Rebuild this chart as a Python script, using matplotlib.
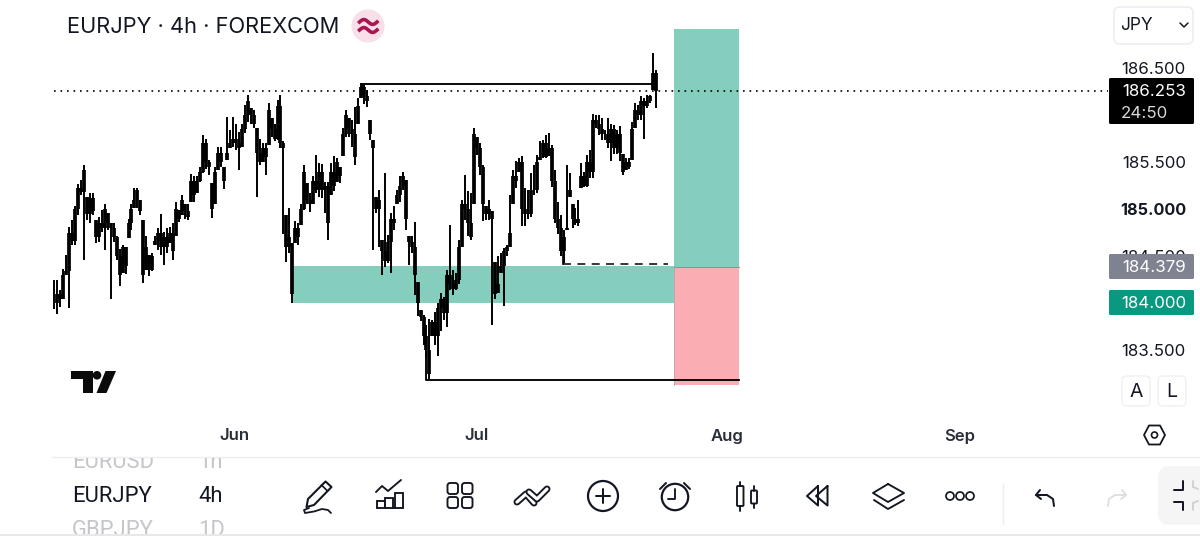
import matplotlib
matplotlib.use("Agg")
import matplotlib.pyplot as plt
from matplotlib.patches import Rectangle, Circle, FancyBboxPatch, Polygon
from matplotlib.transforms import blended_transform_factory
import numpy as np

plt.rcParams['font.family'] = ['Inter', 'DejaVu Sans']

# 4h bars, oldest first
highs = [184.25, 184.25, 184.14, 184.36, 184.51, 184.81, 184.89, 185.03, 185.27, 185.31,
         185.47, 185.13, 185.17, 185.17, 184.89, 184.92, 184.99, 185.06, 184.96, 184.85,
         184.85, 184.71, 184.58, 184.62, 184.60, 184.90, 185.06, 185.22, 185.22, 185.10,
         184.89, 184.71, 184.51, 184.53, 184.71, 184.80, 184.95, 184.76, 184.80, 184.81,
         184.85, 185.08, 184.99, 185.15, 185.06, 185.06, 185.37, 185.35, 185.35, 185.45,
         185.79, 185.75, 185.52, 185.28, 185.45, 185.66, 185.66, 185.45, 185.98, 185.84,
         185.98, 185.91, 185.82, 185.91, 186.11, 186.21, 186.07, 186.05, 185.86, 185.75,
         185.70, 185.70, 186.13, 185.97, 185.90, 186.16, 186.21, 185.72, 184.94, 185.01,
         184.64, 184.87, 184.85, 185.05, 185.47, 185.28, 185.17, 185.35, 185.58, 185.49,
         185.48, 185.29, 185.29, 185.49, 185.56, 185.54, 185.45, 185.86, 186.05, 185.97,
         185.95, 186.09, 186.18, 186.34, 186.32, 186.27, 185.95, 185.74, 185.13, 185.20,
         184.67, 185.38, 184.73, 184.96, 185.03, 185.20, 185.35, 185.40, 185.31, 184.71,
         184.71, 184.86, 184.23, 183.93, 183.88, 183.77, 183.83, 183.82, 183.91, 184.00,
         184.11, 184.07, 184.35, 184.83, 184.35, 184.32, 184.67, 185.10, 185.36, 185.19,
         185.17, 185.86, 185.77, 185.70, 185.47, 185.03, 185.10, 184.98, 184.44, 184.50,
         184.53, 184.59, 184.62, 185.15, 185.42, 185.51, 185.54, 185.56, 185.22, 185.20,
         185.38, 185.47, 185.58, 185.72, 185.74, 185.79, 185.81, 185.68, 185.42, 185.08,
         184.94, 184.78, 185.47, 185.38, 185.05, 185.01, 185.10, 185.49, 185.40, 185.58,
         185.63, 186.01, 186.00, 186.00, 185.97, 185.84, 185.97, 185.91, 185.89, 185.84,
         185.88, 185.59, 185.54, 185.54, 185.93, 186.13, 186.11, 186.20, 186.18, 186.21,
         186.21, 186.66, 186.48]
lows = [183.94, 183.89, 183.96, 184.05, 184.30, 183.95, 184.62, 184.62, 184.94, 185.15,
        184.46, 184.89, 184.85, 184.94, 184.64, 184.65, 184.76, 184.57, 184.78, 184.05,
        184.65, 184.46, 184.18, 184.32, 184.31, 184.69, 184.78, 185.01, 185.01, 184.94,
        184.22, 184.35, 184.29, 184.34, 184.62, 184.57, 184.51, 184.41, 184.53, 184.64,
        184.46, 184.71, 184.86, 184.94, 184.90, 184.89, 185.08, 185.08, 185.17, 185.29,
        185.38, 185.43, 185.36, 184.91, 185.05, 185.42, 185.45, 185.21, 185.52, 185.65,
        185.66, 185.63, 185.42, 185.66, 185.81, 185.93, 185.91, 185.86, 185.13, 185.47,
        185.50, 185.36, 185.68, 185.77, 185.72, 185.74, 185.65, 184.74, 184.44, 184.53,
        184.00, 184.64, 184.62, 184.83, 184.99, 185.06, 184.97, 185.06, 185.17, 185.13,
        185.12, 184.96, 184.67, 185.15, 185.19, 185.29, 185.28, 185.56, 185.77, 185.77,
        185.66, 185.47, 185.91, 186.18, 186.12, 186.09, 185.74, 184.57, 184.96, 184.60,
        184.30, 184.39, 184.43, 184.32, 184.78, 185.06, 185.08, 185.20, 184.78, 184.41,
        184.53, 184.09, 183.86, 183.81, 183.56, 183.42, 183.20, 183.65, 183.56, 183.44,
        183.70, 183.82, 183.75, 184.14, 184.09, 184.14, 184.20, 184.60, 184.89, 184.71,
        184.67, 185.06, 185.58, 185.36, 184.87, 184.89, 184.89, 183.77, 184.05, 184.11,
        184.32, 183.97, 184.50, 184.60, 185.06, 185.22, 185.40, 184.82, 184.82, 184.90,
        184.92, 185.15, 185.17, 185.52, 185.54, 185.54, 185.56, 185.24, 184.85, 184.74,
        184.50, 184.43, 184.78, 185.13, 184.80, 184.83, 184.82, 185.22, 185.24, 185.24,
        185.33, 185.33, 185.86, 185.79, 185.74, 185.74, 185.65, 185.51, 185.59, 185.59,
        185.51, 185.36, 185.42, 185.43, 185.52, 185.86, 185.95, 185.95, 185.75, 186.07,
        186.13, 186.27, 186.07]
closes = [184.00, 184.10, 184.05, 184.30, 184.34, 184.75, 184.66, 185.00, 185.22, 185.18,
          185.42, 184.95, 185.12, 184.98, 184.70, 184.85, 184.80, 185.00, 184.85, 184.80,
          184.70, 184.50, 184.30, 184.60, 184.40, 184.85, 185.00, 185.10, 185.20, 184.98,
          184.30, 184.60, 184.35, 184.50, 184.66, 184.75, 184.60, 184.70, 184.60, 184.75,
          184.55, 185.00, 184.90, 185.10, 184.98, 184.92, 185.30, 185.15, 185.30, 185.40,
          185.70, 185.50, 185.45, 185.00, 185.40, 185.60, 185.50, 185.30, 185.60, 185.70,
          185.75, 185.70, 185.65, 185.85, 186.00, 186.15, 186.00, 185.90, 185.60, 185.50,
          185.65, 185.55, 186.05, 185.85, 185.75, 186.10, 185.70, 185.65, 184.60, 184.70,
          184.10, 184.80, 184.70, 185.00, 185.40, 185.10, 185.05, 185.30, 185.20, 185.40,
          185.20, 185.25, 184.85, 185.40, 185.25, 185.50, 185.35, 185.80, 186.00, 185.85,
          185.80, 185.55, 186.10, 186.30, 186.20, 186.15, 185.80, 185.65, 185.00, 185.10,
          184.55, 184.45, 184.65, 184.90, 184.85, 185.15, 185.25, 185.35, 184.90, 184.65,
          184.60, 184.30, 184.00, 183.85, 183.65, 183.50, 183.25, 183.80, 183.65, 183.95,
          184.05, 183.90, 184.30, 184.20, 184.15, 184.25, 184.60, 185.05, 185.00, 184.85,
          184.70, 185.80, 185.65, 185.45, 185.05, 184.95, 185.00, 184.90, 184.10, 184.20,
          184.40, 184.55, 184.60, 184.75, 185.35, 185.30, 185.50, 185.00, 184.95, 184.95,
          185.20, 185.20, 185.50, 185.55, 185.70, 185.55, 185.65, 185.30, 184.90, 184.80,
          184.55, 184.70, 184.80, 185.20, 184.90, 184.85, 184.90, 185.35, 185.25, 185.50,
          185.40, 185.95, 185.90, 185.85, 185.80, 185.80, 185.70, 185.85, 185.65, 185.80,
          185.60, 185.40, 185.50, 185.45, 185.85, 186.05, 186.00, 186.15, 186.10, 186.15,
          186.20, 186.45, 186.253]

price_ticks = [186.5, 185.5, 185.0, 184.5, 183.5]
price_tick_labels = ['186.500', '185.500', '185.000', '184.500', '183.500']
last_price = 186.253
last_countdown = '24:50'
avg_price = 184.379
sl_price = 184.0

months = ['Jun', 'Jul', 'Aug', 'Sep']
month_bars = [60.7, 141.9, 225.8, 304.0]

swing_high = 186.33
swing_low = 183.184
minor_low = 184.417
zone_top = 184.40
zone_bottom = 184.0
target_top = 186.914
stop_bottom = 183.131

GREEN = '#85cdbd'
PINK = '#fbadb4'
INK = '#131722'

W, H = 1200, 536
PX_PER_BAR = 2.98
PX_PER_PRICE = 94.1


def bar_at(px):
    return (px - 54) / PX_PER_BAR


def stroke(pts, lw=2.0, color=INK, cap='round', join='round', z=5):
    # lw in pixels, points in figure pixel coords
    xs, ys = zip(*pts)
    ui.plot(xs, ys, color=color, lw=lw * 0.72, solid_capstyle=cap, solid_joinstyle=join, zorder=z)


def box(x, y, w, h, r, fc='none', ec=INK, lw=2.0, z=5):
    ui.add_patch(FancyBboxPatch((x + r, y + r), w - 2 * r, h - 2 * r,
                                boxstyle=f'round,pad={r},rounding_size={r}',
                                fc=fc, ec=ec, lw=lw * 0.72, zorder=z))


fig = plt.figure(figsize=(W / 100, H / 100), dpi=100, facecolor='white')

# price chart fills the whole figure, with scales set so the panel lands in place
ax = fig.add_axes([0, 0, 1, 1])
ax.set_xlim(bar_at(0), bar_at(W))
ax.set_ylim(186.5 - (H - 68) / PX_PER_PRICE, 186.5 + 68 / PX_PER_PRICE)
ax.axis('off')

# order block and long position boxes
ax.fill_between([bar_at(293), bar_at(674)], zone_bottom, zone_top, color=GREEN, lw=0, zorder=1)
ax.fill_between([bar_at(674), bar_at(739)], avg_price, target_top, color=GREEN, lw=0, zorder=1)
ax.fill_between([bar_at(674), bar_at(739)], stop_bottom, avg_price, color=PINK, lw=0, zorder=1)
ax.plot([bar_at(674), bar_at(739)], [avg_price + 0.005] * 2, color='#7f9a94', lw=0.7, zorder=1.5)
ax.plot([bar_at(674), bar_at(674)], [stop_bottom, avg_price], color='#c9a3a8', lw=0.7, zorder=1.5)

# last price line
ax.plot([bar_at(54), bar_at(1108)], [last_price, last_price], color='black', lw=1.2,
        ls=(0, (1, 2.9)), zorder=2)

# candles
bars = np.arange(len(highs))
opens = [closes[0]] + closes[:-1]
ax.vlines(bars, lows, highs, color='black', lw=1.4, zorder=3)
body_low = np.clip(np.minimum(opens, closes), lows, highs)
body_high = np.clip(np.maximum(opens, closes), lows, highs)
ax.vlines(bars, body_low, body_high, color='black', lw=2.7, zorder=3)

# drawn levels
hi_start = bar_at(362)
hi_end = bar_at(652)
ax.plot([hi_start, hi_start, hi_end], [186.27, swing_high, swing_high], color='black', lw=1.35, zorder=4)
lo_start = bar_at(426.5)
ax.plot([lo_start, lo_start, bar_at(739)], [183.65, swing_low, swing_low], color='black', lw=1.35, zorder=4)
mid_start = bar_at(563.5)
ax.plot([mid_start, mid_start], [184.6, minor_low], color='black', lw=1.2, zorder=4)
ax.plot([mid_start, bar_at(668)], [minor_low, minor_low], color='black', lw=1.1,
        ls=(0, (5.2, 4.2)), zorder=4)

# overlay in pixel coords for the app chrome around the chart
ui = fig.add_axes([0, 0, 1, 1])
ui.set_xlim(0, W)
ui.set_ylim(H, 0)
ui.axis('off')
ui.patch.set_alpha(0)

ui.text(67, 27, 'EURJPY · 4h · FOREXCOM', fontsize=15.75, color=INK, va='center', ha='left')
ui.add_patch(Circle((368, 26), 16.5, fc='#f9dfe9', ec='none'))
for off in (-4, 4):
    xs = np.linspace(359.5, 377, 30)
    ui.plot(xs, 26 + off - 2.4 * np.sin((xs - 359.5) / 17.5 * 2 * np.pi), color='#a8174f', lw=2.6)

# currency picker
box(1114, 7, 79, 37, 6, ec='#e9ebee', lw=1.4)
ui.text(1120, 26, 'JPY', fontsize=12.5, color=INK, va='center', ha='left')
stroke([(1180, 23), (1184, 27), (1188, 23)], lw=1.5)

# price scale
price_tf = blended_transform_factory(ui.transData, ax.transData)
for p, lab in zip(price_ticks, price_tick_labels):
    strong = lab == '185.000'
    ax.annotate(lab, (1186, p), xycoords=price_tf, xytext=(0, -0.8), textcoords='offset points',
                fontsize=11.7 if strong else 12.2, color=INK, va='center', ha='right',
                fontweight='bold' if strong else 'normal', zorder=6)

box(1109, 78, 85, 46, 1.5, fc='black', ec='none')
ui.text(1186, 92, f'{last_price:.3f}', fontsize=12.2, color='white', va='center', ha='right', zorder=7)
ui.text(1121, 113, last_countdown, fontsize=12.2, color='#d8d8d8', va='center', ha='left', zorder=7)
box(1109, 254, 85, 25, 1.5, fc='#7f8290', ec='none')
ui.text(1186, 268, f'{avg_price:.3f}', fontsize=12.2, color='white', va='center', ha='right', zorder=7)
box(1109, 290, 85, 25, 1.5, fc='#089981', ec='none')
ui.text(1186, 304, f'{sl_price:.3f}', fontsize=12.2, color='white', va='center', ha='right', zorder=7)

# scale mode buttons
box(1122, 376, 28, 30, 5, ec='#eceef0', lw=1.2)
box(1158, 376, 28, 30, 5, ec='#eceef0', lw=1.2)
ui.text(1136, 392, 'A', fontsize=14, color=INK, va='center', ha='center')
ui.text(1172, 392, 'L', fontsize=14, color=INK, va='center', ha='center')

# settings hexagon
ui.add_patch(Polygon([(1144, 435), (1149, 425.5), (1160, 425.5), (1165, 435), (1160, 444.5), (1149, 444.5)],
                     closed=True, fc='none', ec=INK, lw=1.3, joinstyle='round'))
ui.add_patch(Circle((1154.5, 435), 3, fc='none', ec=INK, lw=1.2))

# month labels
ax.set_xticks([])
for m, b in zip(months, month_bars):
    ax.text(b, 186.5 - (436 - 68) / PX_PER_PRICE, m, fontsize=12, fontweight='semibold', color='#2a2e39',
            va='center', ha='center', zorder=6)

# TradingView mark
ui.add_patch(Polygon([(71, 371), (92.5, 371), (92.5, 393), (83, 393), (83, 378.5), (71, 378.5)],
                     closed=True, fc='#0b0b0b', ec='none'))
ui.add_patch(Circle((97, 375.3), 4.3, fc='#0b0b0b', ec='none'))
ui.add_patch(Polygon([(105.5, 371), (116, 371), (106.5, 393), (96.5, 393)], closed=True, fc='#0b0b0b', ec='none'))

# toolbar
ui.plot([52, W], [457, 457], color='#eceef0', lw=1)
ui.plot([0, W], [534.5, 534.5], color='#e8e8e8', lw=1.4)

strip = Rectangle((0, 458), 300, 76, transform=ui.transData)
for label, tf, y, col in [('EURUSD', '1h', 462, '#c4c6ca'), ('EURJPY', '4h', 496, INK), ('GBPJPY', '1D', 530, '#c4c6ca')]:
    t1 = ui.text(72, y, label, family=['Roboto', 'DejaVu Sans'], fontsize=15.8, color=col, va='center', ha='left')
    t2 = ui.text(198, y, tf, family=['Roboto', 'DejaVu Sans'], fontsize=15.8, color=col, va='center', ha='left')
    for t in (t1, t2):
        t.set_clip_path(strip)
        t.set_clip_on(True)

# pencil
ui.add_patch(Polygon([(325.5, 481.5), (331.5, 487), (314, 505), (306.5, 507), (308, 499)],
                     closed=True, fc='none', ec=INK, lw=1.5, joinstyle='round'))
stroke([(321.5, 485), (327.5, 491)], lw=1.7)
stroke([(309, 508), (304, 510), (305, 513), (314, 511.5), (322, 509), (328, 510), (331, 513)], lw=1.8)

# indicators
stroke([(376, 492), (382, 486), (388, 491), (401, 480)], lw=1.9)
stroke([(377, 507.5), (403, 507.5)], lw=1.9)
for x0, top, w in [(377, 501, 8), (385, 498, 8), (395, 493, 7.5)]:
    stroke([(x0, 507.5), (x0, top), (x0 + w, top), (x0 + w, 507.5)], lw=1.9, join='miter')

# layouts
for bx in (447.5, 462):
    for by in (483, 497):
        box(bx, by, 10.5, 11, 2.6, lw=1.9)

# drawing tools, two outlined chevrons
left_chev = [(517, 502), (526, 494), (534, 503)]
right_chev = [(529, 492), (537, 499), (547, 489)]
stroke(left_chev, lw=7, z=5)
stroke(left_chev, lw=3.2, color='white', z=6)
stroke(right_chev, lw=7, z=7)
stroke(right_chev, lw=3.2, color='white', z=8)

# add
ui.add_patch(Circle((603, 496), 15, fc='none', ec=INK, lw=1.6))
stroke([(596, 496), (610, 496)], lw=2)
stroke([(603, 489), (603, 503)], lw=2)

# alarm
ui.add_patch(Circle((675, 497), 13.2, fc='none', ec=INK, lw=1.6))
stroke([(675, 489), (675, 499), (668, 499)], lw=1.9)
stroke([(660, 489), (666, 483)], lw=2)
stroke([(684, 483), (690, 489)], lw=2)

# chart type
box(737, 486, 6.5, 20, 1, lw=1.9)
stroke([(740.3, 482), (740.3, 486)], lw=1.9)
stroke([(740.3, 506), (740.3, 511)], lw=1.9)
box(751, 490.5, 6, 13, 1, lw=1.9)
stroke([(754, 486), (754, 490.5)], lw=1.9)
stroke([(754, 503.5), (754, 508)], lw=1.9)

# replay
stroke([(818, 486), (807, 496), (818, 505.5), (818, 486)], lw=2)
stroke([(827.5, 486), (816, 496), (827.5, 505.5), (827.5, 486)], lw=2)

# layers
stroke([(888, 484), (904, 493), (888, 502), (873, 493), (888, 484)], lw=1.9)
stroke([(874, 500), (888, 509), (904, 500)], lw=1.9)

# more
for cx in (950, 960, 970):
    ui.add_patch(Circle((cx, 496), 4, fc='none', ec=INK, lw=1.25))

ui.plot([1003, 1003], [484, 524], color='#eceef0', lw=1)

# undo / redo
stroke([(1040, 490), (1036, 495), (1041, 499)], lw=2.0)
stroke([(1036, 495), (1047, 495), (1053, 499), (1054, 506)], lw=2.0)
stroke([(1122, 490), (1126, 495), (1121, 499)], lw=1.8, color='#dddddf')
stroke([(1126, 495), (1115, 495), (1109, 499), (1108, 506)], lw=1.8, color='#dddddf')

# fullscreen button, runs off the right edge
ui.add_patch(FancyBboxPatch((1170, 478), 60, 35, boxstyle='round,pad=12,rounding_size=12',
                            fc='#f5f5f6', ec='none', zorder=4))
stroke([(1174, 490), (1183, 490), (1183, 481)], lw=2)
stroke([(1174, 502), (1183, 502), (1183, 510)], lw=2)
stroke([(1193, 481), (1193, 487), (1198, 489)], lw=1.8, color='#cfcfd2')
stroke([(1193, 510), (1193, 503), (1198, 501)], lw=1.8, color='#cfcfd2')

ui.set_xlim(0, W)
ui.set_ylim(H, 0)

fig.savefig('out.png', dpi=100, facecolor='white')
